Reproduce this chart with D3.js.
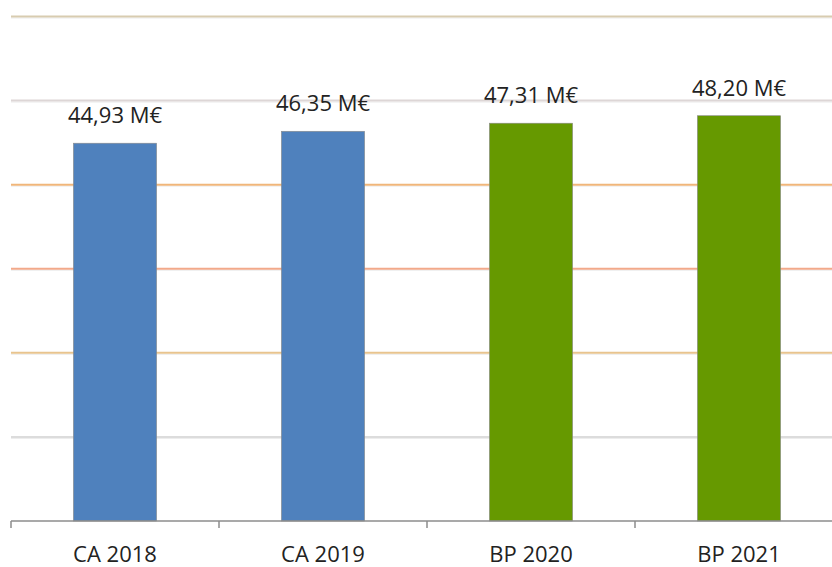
<!DOCTYPE html>
<html>
<head>
<meta charset="utf-8">
<script src="https://cdn.jsdelivr.net/npm/d3@7"></script>
<style>
  html, body { margin: 0; padding: 0; background: #fff; }
  svg { display: block; }
  text { font-family: "Open Sans", "Liberation Sans", sans-serif; fill: #222; }
</style>
</head>
<body>
<svg id="chart" width="832" height="567"></svg>
<script>
// Budget totals in millions of euros
const categories = ["CA 2018", "CA 2019", "BP 2020", "BP 2021"];
const values = [44.93, 46.35, 47.31, 48.20];
const barColors = ["#4f81bd", "#4f81bd", "#669900", "#669900"];
const gridValues = [10, 20, 30, 40, 50, 60];
const gridColors = ["#dcdcdc", "#e8c48e", "#f2a98a", "#f0b67a", "#ddd6d6", "#d8ccb0"];

const svg = d3.select("#chart");
const plotLeft = 11, plotRight = 843, plotTop = 16.5, plotBottom = 521;

const x = d3.scaleBand().domain(categories).range([plotLeft, plotRight]).paddingInner(0.6).paddingOuter(0.3);
const y = d3.scaleLinear().domain([0, 60]).range([plotBottom, plotTop]);

// Horizontal gridlines with a faint shadow underneath
const grid = svg.append("g");
gridValues.forEach((v, i) => {
  grid.append("line")
    .attr("x1", plotLeft).attr("x2", 832)
    .attr("y1", y(v) + 1.5).attr("y2", y(v) + 1.5)
    .attr("stroke", "#ececec").attr("stroke-width", 1);
  grid.append("line")
    .attr("x1", plotLeft).attr("x2", 832)
    .attr("y1", y(v)).attr("y2", y(v))
    .attr("stroke", gridColors[i]).attr("stroke-width", 2);
});

// Bars
svg.append("g").selectAll("rect")
  .data(values)
  .join("rect")
  .attr("x", (d, i) => x(categories[i]))
  .attr("y", d => y(d))
  .attr("width", x.bandwidth())
  .attr("height", d => y(0) - y(d))
  .attr("fill", (d, i) => barColors[i])
  .attr("stroke", "#8a8a8a")
  .attr("stroke-width", 0.6);

// Value labels
const fmt = v => d3.format(".2f")(v).replace(".", ",") + " M€";
svg.append("g").selectAll("text")
  .data(values)
  .join("text")
  .attr("x", (d, i) => x(categories[i]) + x.bandwidth() / 2)
  .attr("y", d => y(d) - 20)
  .attr("text-anchor", "middle")
  .attr("font-size", 22)
  .text(fmt);

// Category axis
const xAxis = d3.axisBottom(x).tickSize(0).tickPadding(25);
const axisG = svg.append("g").attr("transform", `translate(0,${plotBottom})`).call(xAxis);
axisG.select(".domain").remove();
axisG.selectAll("text").attr("font-size", 22).attr("font-family", "\"Open Sans\", sans-serif").attr("fill", "#222");
axisG.append("line").attr("x1", plotLeft).attr("x2", 832).attr("y1", 0).attr("y2", 0)
  .attr("stroke", "#8c8c8c").attr("stroke-width", 1.5);
const boundaries = d3.range(categories.length + 1).map(i => plotLeft + i * (plotRight - plotLeft) / categories.length);
axisG.selectAll(".sep").data(boundaries).join("line")
  .attr("class", "sep")
  .attr("x1", d => d).attr("x2", d => d).attr("y1", 0).attr("y2", 7)
  .attr("stroke", "#8c8c8c").attr("stroke-width", 1.5);
</script>
</body>
</html>
